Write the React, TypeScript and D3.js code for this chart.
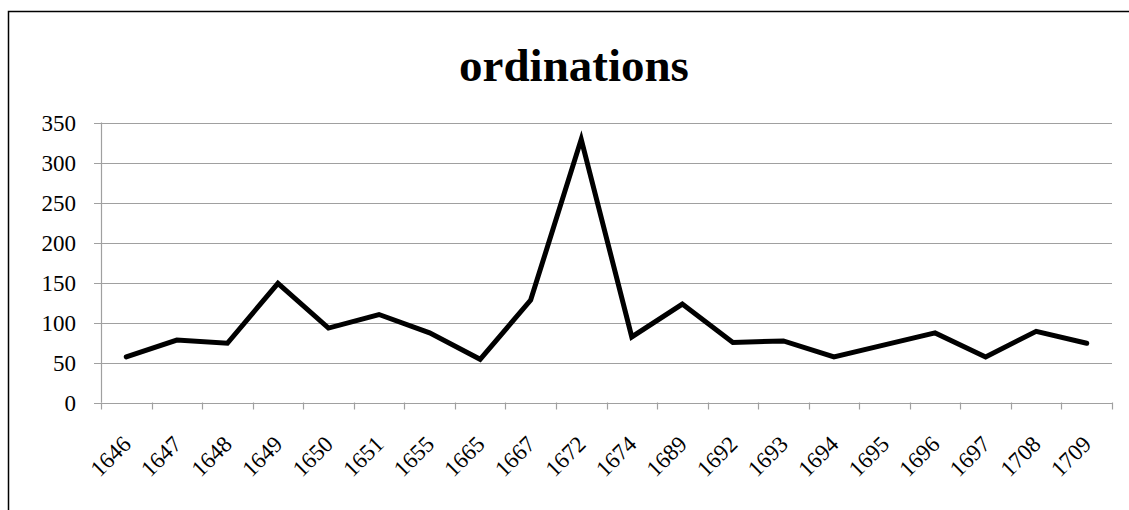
import React, { useRef, useEffect } from 'react';
import * as d3 from 'd3';

const years = ['1646', '1647', '1648', '1649', '1650', '1651', '1655', '1665', '1667', '1672',
  '1674', '1689', '1692', '1693', '1694', '1695', '1696', '1697', '1708', '1709'];
const ordinations = [57, 78, 74, 149, 93, 110, 87, 54, 128, 329, 82, 123, 75, 77, 57, 72, 87, 57, 89, 74];
const yTicks = [0, 50, 100, 150, 200, 250, 300, 350];

export default function App() {
  const svgRef = useRef<SVGSVGElement>(null);

  useEffect(() => {
    const svg = d3.select(svgRef.current);
    svg.selectAll('*').remove();

    const width = 1129;
    const height = 510;
    const left = 101, right = 1112, top = 122.5, bottom = 402.5;
    const font = '"Liberation Serif", "Times New Roman", serif';

    svg.append('rect').attr('width', width).attr('height', height).attr('fill', 'white');

    // chart border (runs off the page on right and bottom)
    svg.append('rect')
      .attr('x', 8.5).attr('y', 11.5)
      .attr('width', width + 20).attr('height', height + 20)
      .attr('fill', 'none').attr('stroke', 'black').attr('stroke-width', 1.5);

    svg.append('text')
      .attr('x', 574).attr('y', 81)
      .attr('text-anchor', 'middle')
      .style('font-family', font)
      .style('font-weight', 'bold')
      .style('font-size', '47px')
      .text('ordinations');

    const x = d3.scaleBand().domain(years).range([left, right]);
    const y = d3.scaleLinear().domain([0, 350]).range([bottom, top]);

    // gridlines
    svg.append('g')
      .selectAll('line')
      .data(yTicks)
      .enter()
      .append('line')
      .attr('x1', left - 7).attr('x2', right)
      .attr('y1', d => Math.round(y(d)) + 0.5).attr('y2', d => Math.round(y(d)) + 0.5)
      .attr('stroke', '#a0a0a0').attr('stroke-width', 1.2);

    // y axis line
    svg.append('line')
      .attr('x1', left + 0.5).attr('x2', left + 0.5)
      .attr('y1', top).attr('y2', bottom)
      .attr('stroke', '#a0a0a0').attr('stroke-width', 1.2);

    // x tick marks at category boundaries
    const bounds = years.map(d => x(d) as number).concat([right]);
    svg.append('g')
      .selectAll('line')
      .data(bounds)
      .enter()
      .append('line')
      .attr('x1', d => Math.round(d) + 0.5).attr('x2', d => Math.round(d) + 0.5)
      .attr('y1', bottom).attr('y2', bottom + 7)
      .attr('stroke', '#a0a0a0').attr('stroke-width', 1.2);

    // y labels
    svg.append('g')
      .selectAll('text')
      .data(yTicks)
      .enter()
      .append('text')
      .attr('x', 76)
      .attr('y', d => y(d))
      .attr('dy', '0.35em')
      .attr('text-anchor', 'end')
      .style('font-family', font)
      .style('font-size', '23px')
      .text(d => d);

    // x labels, rotated
    svg.append('g')
      .selectAll('text')
      .data(years)
      .enter()
      .append('text')
      .attr('transform', d => `translate(${(x(d) as number) + x.bandwidth() / 2 + 6}, ${bottom + 43}) rotate(-45)`)
      .attr('text-anchor', 'end')
      .style('font-family', font)
      .style('font-size', '23px')
      .text(d => d);

    const line = d3.line<number>()
      .x((d, i) => (x(years[i]) as number) + x.bandwidth() / 2)
      .y(d => y(d));

    svg.append('path')
      .datum(ordinations)
      .attr('d', line)
      .attr('fill', 'none')
      .attr('stroke', 'black')
      .attr('stroke-width', 5)
      .attr('stroke-linejoin', 'miter')
      .attr('stroke-linecap', 'round');
  }, []);

  return (
    <svg ref={svgRef} width={1129} height={510}
      style={{ position: 'absolute', left: 0, top: 0, display: 'block' }} />
  );
}
